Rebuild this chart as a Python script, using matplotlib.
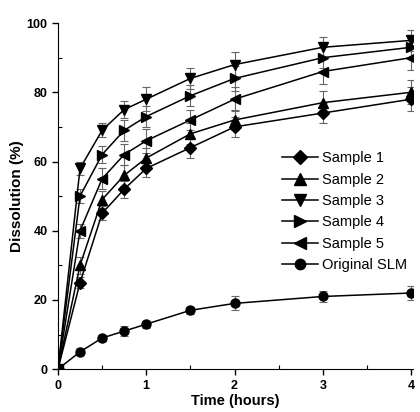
import matplotlib
matplotlib.use("Agg")
import matplotlib.pyplot as plt
from matplotlib.ticker import MultipleLocator

plt.rcParams["font.family"] = ["Liberation Sans", "DejaVu Sans"]

time_h = [0, 0.25, 0.5, 0.75, 1, 1.5, 2, 3, 4]

sample1 = [0, 25, 45, 52, 58, 64, 70, 74, 78]
sample2 = [0, 30, 49, 56, 61, 68, 72, 77, 80]
sample3 = [0, 58, 69, 75, 78, 84, 88, 93, 95]
sample4 = [0, 50, 62, 69, 73, 79, 84, 90, 93]
sample5 = [0, 40, 55, 62, 66, 72, 78, 86, 90]
original = [0, 5, 9, 11, 13, 17, 19, 21, 22]

err1 = [0, 1.5, 2, 2.5, 2.5, 3, 3, 3, 3.5]
err2 = [0, 2.5, 2.5, 3, 3, 3, 3, 3.5, 3.5]
err3 = [0, 2, 2, 2.5, 3.5, 3, 3.5, 3, 3]
err4 = [0, 2, 2.5, 3, 3, 3, 3.5, 3, 3]
err5 = [0, 2, 3, 3, 3.5, 3, 3.5, 3.5, 3.5]
err_orig = [0, 1, 1, 1.5, 1, 1, 2, 1.5, 2]

series = [
    ("Sample 1", sample1, err1, "D", 6),
    ("Sample 2", sample2, err2, "^", 7),
    ("Sample 3", sample3, err3, "v", 7),
    ("Sample 4", sample4, err4, ">", 7),
    ("Sample 5", sample5, err5, "<", 7),
    ("Original SLM", original, err_orig, "o", 6.5),
]

fig = plt.figure(figsize=(4.2, 4.12), dpi=100)
ax = fig.add_axes([0.138, 0.104, 0.845, 0.84])

for label, vals, err, marker, ms in series:
    ax.errorbar(time_h, vals, yerr=err, fmt="none", ecolor="#666666",
                elinewidth=0.8, capsize=3, capthick=0.8, zorder=1)
    ax.plot(time_h, vals, color="black", lw=1.1, marker=marker, ms=ms,
            markerfacecolor="black", markeredgecolor="black", label=label, zorder=2)

ax.set_xlim(0, 4.02)
ax.set_ylim(0, 100)
ax.xaxis.set_major_locator(MultipleLocator(1))
ax.xaxis.set_minor_locator(MultipleLocator(0.5))
ax.yaxis.set_major_locator(MultipleLocator(20))
ax.yaxis.set_minor_locator(MultipleLocator(10))
ax.tick_params(which="major", direction="out", length=4, width=1, labelsize=9)
ax.tick_params(which="minor", direction="in", length=3, width=0.8)
for t in ax.get_xticklabels() + ax.get_yticklabels():
    t.set_fontweight("bold")

ax.spines["top"].set_visible(False)
ax.spines["right"].set_visible(False)

ax.set_xlabel("Time (hours)", fontsize=10.5, fontweight="bold", labelpad=2)
ax.set_ylabel("Dissolution (%)", fontsize=11, fontweight="bold", labelpad=2)

ax.legend(loc="center right", bbox_to_anchor=(1.02, 0.455), frameon=False,
          fontsize=10.5, handlelength=2.5, handletextpad=0.25, labelspacing=0.5,
          markerscale=1.15)

fig.savefig("out.png", dpi=100)
